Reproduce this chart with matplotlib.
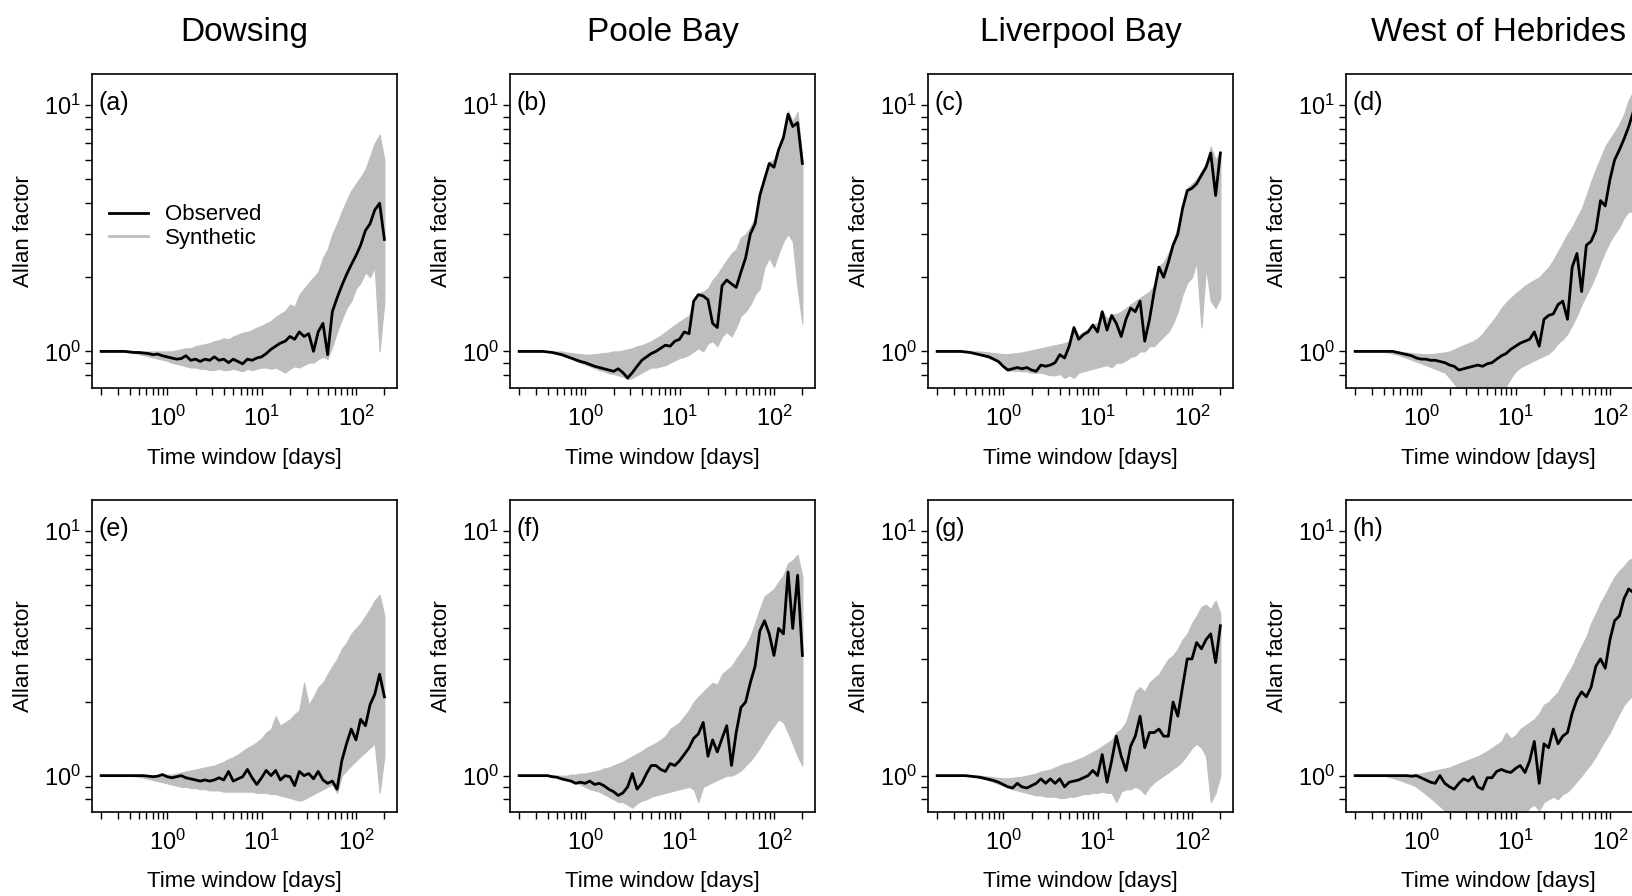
import matplotlib
matplotlib.use("Agg")
import matplotlib.pyplot as plt
from matplotlib.lines import Line2D
from matplotlib.ticker import FixedLocator, LogFormatterSciNotation, NullFormatter

# ---------------- data ----------------
windows = [0.200, 0.224, 0.251, 0.282, 0.316, 0.355, 0.398, 0.447, 0.501, 0.562,
           0.631, 0.708, 0.794, 0.891, 1.00, 1.12, 1.26, 1.41, 1.58, 1.78,
           2.00, 2.24, 2.51, 2.82, 3.16, 3.55, 3.98, 4.47, 5.01, 5.62,
           6.31, 7.08, 7.94, 8.91, 10.0, 11.2, 12.6, 14.1, 15.8, 17.8,
           20.0, 22.4, 25.1, 28.2, 31.6, 35.5, 39.8, 44.7, 50.1, 56.2,
           63.1, 70.8, 79.4, 89.1, 100, 112, 126, 141, 158, 178, 200]

sites = ["Dowsing", "Poole Bay", "Liverpool Bay", "West of Hebrides"]
panel_labels = ["(a)", "(b)", "(c)", "(d)", "(e)", "(f)", "(g)", "(h)"]

obs_a = [1.00, 1.00, 1.00, 1.00, 1.00, 1.00, 0.995, 0.99, 0.99, 0.985,
         0.98, 0.97, 0.975, 0.96, 0.95, 0.94, 0.93, 0.935, 0.96, 0.92,
         0.93, 0.91, 0.93, 0.92, 0.95, 0.92, 0.93, 0.90, 0.93, 0.91,
         0.89, 0.93, 0.92, 0.94, 0.95, 0.98, 1.02, 1.05, 1.08, 1.10,
         1.15, 1.12, 1.20, 1.15, 1.18, 1.00, 1.20, 1.30, 0.97, 1.45,
         1.65, 1.85, 2.05, 2.25, 2.45, 2.70, 3.10, 3.30, 3.75, 4.00, 2.85]
up_a = [1.0, 1.0, 1.0, 1.0, 1.0, 1.0, 1.0, 1.0, 1.0, 1.0,
        1.0, 1.0, 1.0, 1.0, 1.0, 1.0, 1.01, 1.02, 1.03, 1.03,
        1.05, 1.06, 1.07, 1.08, 1.10, 1.11, 1.13, 1.12, 1.15, 1.17,
        1.19, 1.20, 1.22, 1.25, 1.27, 1.30, 1.33, 1.38, 1.42, 1.46,
        1.55, 1.52, 1.70, 1.80, 1.90, 2.00, 2.10, 2.40, 2.60, 3.00,
        3.30, 3.70, 4.10, 4.50, 4.80, 5.10, 5.50, 6.20, 7.00, 7.60, 6.00]
lo_a = [1.0, 1.0, 1.0, 1.0, 1.0, 1.0, 0.99, 0.985, 0.975, 0.965,
        0.955, 0.945, 0.935, 0.925, 0.915, 0.90, 0.89, 0.88, 0.87, 0.86,
        0.86, 0.85, 0.85, 0.84, 0.84, 0.85, 0.84, 0.84, 0.85, 0.84,
        0.83, 0.85, 0.84, 0.85, 0.86, 0.86, 0.85, 0.86, 0.84, 0.82,
        0.85, 0.87, 0.86, 0.88, 0.90, 0.90, 0.93, 0.95, 0.93, 1.05,
        1.20, 1.35, 1.50, 1.60, 1.80, 1.90, 2.10, 2.00, 2.20, 1.00, 1.60]

obs_b = [1.0, 1.0, 1.0, 1.0, 1.0, 1.0, 0.995, 0.99, 0.98, 0.97,
         0.955, 0.94, 0.925, 0.91, 0.90, 0.885, 0.87, 0.86, 0.85, 0.84,
         0.83, 0.85, 0.82, 0.78, 0.82, 0.87, 0.92, 0.95, 0.98, 1.00,
         1.03, 1.06, 1.05, 1.10, 1.12, 1.20, 1.18, 1.60, 1.70, 1.68,
         1.62, 1.30, 1.25, 1.85, 1.95, 1.88, 1.82, 2.10, 2.40, 3.00,
         3.30, 4.30, 5.00, 5.80, 5.60, 6.60, 7.40, 9.20, 8.20, 8.50, 5.80]
up_b = [1.0, 1.0, 1.0, 1.0, 1.0, 1.0, 1.0, 1.0, 1.0, 1.0,
        0.99, 0.985, 0.98, 0.975, 0.97, 0.97, 0.975, 0.98, 0.985, 0.99,
        1.00, 1.00, 1.01, 1.02, 1.03, 1.05, 1.06, 1.08, 1.10, 1.13,
        1.16, 1.20, 1.24, 1.28, 1.32, 1.36, 1.40, 1.62, 1.72, 1.75,
        1.80, 1.95, 2.05, 2.20, 2.35, 2.50, 2.60, 2.90, 3.00, 3.20,
        3.50, 4.50, 5.10, 5.90, 6.00, 6.80, 7.60, 9.50, 8.60, 9.40, 6.00]
lo_b = [1.0, 1.0, 1.0, 1.0, 1.0, 1.0, 1.0, 0.995, 0.985, 0.97,
        0.95, 0.935, 0.915, 0.90, 0.885, 0.87, 0.855, 0.84, 0.83, 0.815,
        0.81, 0.80, 0.79, 0.77, 0.78, 0.80, 0.82, 0.84, 0.86, 0.86,
        0.87, 0.88, 0.90, 0.92, 0.94, 0.95, 0.97, 1.00, 1.03, 1.00,
        1.08, 1.10, 1.05, 1.15, 1.20, 1.15, 1.25, 1.40, 1.45, 1.55,
        1.70, 1.80, 2.20, 2.40, 2.20, 2.50, 2.80, 3.00, 2.80, 1.80, 1.30]

obs_c = [1.0, 1.0, 1.0, 1.0, 1.0, 1.0, 0.995, 0.99, 0.98, 0.97,
         0.96, 0.95, 0.93, 0.91, 0.87, 0.84, 0.85, 0.86, 0.85, 0.86,
         0.84, 0.83, 0.88, 0.87, 0.88, 0.90, 0.97, 0.94, 1.05, 1.25,
         1.12, 1.17, 1.20, 1.28, 1.20, 1.45, 1.22, 1.40, 1.30, 1.15,
         1.35, 1.50, 1.45, 1.60, 1.10, 1.35, 1.75, 2.20, 2.00, 2.30,
         2.70, 3.00, 3.80, 4.50, 4.60, 4.80, 5.20, 5.60, 6.40, 4.30, 6.40]
up_c = [1.0, 1.0, 1.0, 1.0, 1.0, 1.0, 1.0, 1.0, 1.0, 1.0,
        0.995, 0.99, 0.985, 0.98, 0.975, 0.975, 0.98, 0.985, 0.99, 1.00,
        1.01, 1.02, 1.03, 1.04, 1.05, 1.06, 1.07, 1.08, 1.10, 1.26,
        1.16, 1.20, 1.23, 1.29, 1.30, 1.46, 1.36, 1.41, 1.42, 1.45,
        1.50, 1.55, 1.60, 1.65, 1.70, 1.75, 1.85, 2.22, 2.30, 2.50,
        2.80, 3.20, 3.90, 4.60, 4.80, 5.00, 5.40, 5.80, 6.80, 6.00, 6.50]
lo_c = [1.0, 1.0, 1.0, 1.0, 1.0, 1.0, 1.0, 0.995, 0.985, 0.97,
        0.955, 0.94, 0.925, 0.905, 0.865, 0.835, 0.835, 0.835, 0.83, 0.83,
        0.82, 0.82, 0.82, 0.81, 0.80, 0.80, 0.81, 0.78, 0.80, 0.78,
        0.82, 0.83, 0.84, 0.85, 0.86, 0.87, 0.88, 0.86, 0.90, 0.90,
        0.92, 0.95, 0.96, 1.00, 1.00, 1.05, 1.05, 1.10, 1.15, 1.20,
        1.30, 1.45, 1.70, 1.90, 2.00, 2.30, 1.25, 2.20, 1.60, 1.50, 1.65]

obs_d = [1.0, 1.0, 1.0, 1.0, 1.0, 1.0, 1.0, 1.0, 1.0, 0.99,
         0.98, 0.97, 0.96, 0.94, 0.93, 0.93, 0.92, 0.92, 0.91, 0.90,
         0.88, 0.87, 0.84, 0.85, 0.86, 0.87, 0.88, 0.87, 0.89, 0.90,
         0.93, 0.96, 0.98, 1.02, 1.05, 1.08, 1.10, 1.12, 1.20, 1.05,
         1.35, 1.40, 1.42, 1.55, 1.60, 1.35, 2.20, 2.50, 1.75, 2.70,
         2.80, 3.10, 4.10, 3.90, 5.00, 6.00, 6.60, 7.30, 8.20, 9.50, 10.0]
up_d = [1.0, 1.0, 1.0, 1.0, 1.0, 1.0, 1.0, 1.0, 1.0, 1.0,
        0.995, 0.99, 0.985, 0.98, 0.975, 0.975, 0.975, 0.98, 0.985, 0.99,
        1.00, 1.02, 1.04, 1.06, 1.08, 1.10, 1.13, 1.18, 1.25, 1.32,
        1.40, 1.50, 1.58, 1.65, 1.72, 1.78, 1.85, 1.90, 1.95, 2.00,
        2.10, 2.20, 2.35, 2.55, 2.75, 3.00, 3.20, 3.50, 3.80, 4.30,
        4.90, 5.50, 6.10, 6.80, 7.30, 7.80, 8.40, 9.20, 10.5, 11.5, 12.0]
lo_d = [1.0, 1.0, 1.0, 1.0, 1.0, 1.0, 1.0, 0.99, 0.98, 0.97,
        0.955, 0.94, 0.925, 0.91, 0.895, 0.88, 0.865, 0.85, 0.835, 0.82,
        0.78, 0.74, 0.70, 0.70, 0.70, 0.70, 0.70, 0.70, 0.70, 0.70,
        0.70, 0.70, 0.72, 0.78, 0.83, 0.86, 0.88, 0.90, 0.92, 0.94,
        0.96, 0.98, 1.02, 1.08, 1.12, 1.18, 1.28, 1.40, 1.55, 1.70,
        1.85, 2.05, 2.30, 2.55, 2.80, 3.00, 3.20, 3.50, 3.70, 3.70, 3.80]

obs_e = [1.0, 1.0, 1.0, 1.0, 1.0, 1.0, 1.0, 1.0, 1.0, 1.0,
         0.995, 0.99, 0.995, 1.01, 0.99, 0.98, 0.99, 1.00, 0.98, 0.97,
         0.96, 0.95, 0.96, 0.95, 0.96, 0.98, 0.96, 1.04, 0.95, 0.97,
         0.99, 1.06, 0.98, 0.92, 0.98, 1.05, 1.00, 1.05, 0.96, 1.00,
         0.99, 0.91, 1.04, 1.00, 1.02, 0.97, 1.04, 0.96, 0.93, 0.95,
         0.88, 1.15, 1.35, 1.55, 1.40, 1.70, 1.60, 1.95, 2.15, 2.60, 2.10]
up_e = [1.0, 1.0, 1.0, 1.0, 1.0, 1.0, 1.0, 1.0, 1.0, 1.0,
        1.0, 1.0, 1.0, 1.01, 1.01, 1.01, 1.02, 1.03, 1.04, 1.05,
        1.06, 1.07, 1.08, 1.09, 1.10, 1.12, 1.14, 1.17, 1.19, 1.22,
        1.26, 1.30, 1.33, 1.37, 1.42, 1.50, 1.55, 1.75, 1.60, 1.65,
        1.70, 1.78, 1.85, 2.40, 1.95, 2.10, 2.30, 2.40, 2.60, 2.80,
        3.00, 3.30, 3.50, 3.80, 4.00, 4.20, 4.50, 4.80, 5.20, 5.50, 4.50]
lo_e = [1.0, 1.0, 1.0, 1.0, 1.0, 1.0, 1.0, 0.995, 0.99, 0.98,
        0.97, 0.96, 0.95, 0.94, 0.93, 0.92, 0.91, 0.90, 0.90, 0.89,
        0.89, 0.88, 0.88, 0.87, 0.87, 0.87, 0.86, 0.86, 0.86, 0.86,
        0.86, 0.86, 0.86, 0.85, 0.85, 0.85, 0.84, 0.84, 0.83, 0.82,
        0.81, 0.80, 0.79, 0.80, 0.82, 0.84, 0.86, 0.88, 0.90, 0.92,
        0.85, 1.00, 1.05, 1.10, 1.15, 1.20, 1.25, 1.30, 1.35, 0.85, 1.20]

obs_f = [1.0, 1.0, 1.0, 1.0, 1.0, 1.0, 1.0, 0.99, 0.985, 0.97,
         0.96, 0.95, 0.93, 0.94, 0.93, 0.95, 0.92, 0.93, 0.91, 0.88,
         0.86, 0.83, 0.85, 0.90, 1.02, 0.88, 0.93, 1.02, 1.10, 1.10,
         1.06, 1.04, 1.12, 1.10, 1.15, 1.22, 1.30, 1.42, 1.48, 1.65,
         1.20, 1.40, 1.25, 1.42, 1.60, 1.10, 1.50, 1.90, 2.00, 2.40,
         2.80, 3.90, 4.30, 3.80, 3.10, 4.00, 3.80, 6.80, 4.00, 6.60, 3.10]
up_f = [1.0, 1.0, 1.0, 1.0, 1.0, 1.0, 1.0, 1.0, 1.0, 1.0,
        1.0, 1.01, 1.01, 1.02, 1.02, 1.03, 1.04, 1.05, 1.07, 1.08,
        1.10, 1.12, 1.14, 1.17, 1.20, 1.23, 1.26, 1.30, 1.33, 1.36,
        1.40, 1.45, 1.55, 1.60, 1.65, 1.75, 1.85, 2.00, 2.10, 2.20,
        2.30, 2.40, 2.35, 2.60, 2.70, 2.80, 3.00, 3.20, 3.40, 3.70,
        4.20, 4.80, 5.40, 5.60, 5.80, 6.20, 6.60, 7.40, 7.60, 8.00, 6.50]
lo_f = [1.0, 1.0, 1.0, 1.0, 1.0, 1.0, 1.0, 1.0, 0.99, 0.98,
        0.965, 0.95, 0.935, 0.92, 0.90, 0.88, 0.87, 0.86, 0.84, 0.82,
        0.80, 0.78, 0.78, 0.76, 0.74, 0.77, 0.79, 0.80, 0.82, 0.83,
        0.84, 0.85, 0.86, 0.87, 0.88, 0.89, 0.90, 0.88, 0.78, 0.90,
        0.92, 0.94, 0.96, 0.98, 1.00, 1.00, 1.02, 1.05, 1.10, 1.15,
        1.22, 1.30, 1.40, 1.50, 1.60, 1.70, 1.65, 1.50, 1.35, 1.20, 1.10]

obs_g = [1.0, 1.0, 1.0, 1.0, 1.0, 1.0, 1.0, 0.995, 0.99, 0.985,
         0.975, 0.965, 0.955, 0.94, 0.92, 0.90, 0.89, 0.93, 0.90, 0.89,
         0.91, 0.93, 0.97, 0.93, 0.97, 0.93, 0.97, 0.90, 0.94, 0.95,
         0.96, 0.98, 1.00, 1.05, 1.00, 1.22, 0.94, 1.15, 1.45, 1.20,
         1.05, 1.32, 1.45, 1.75, 1.30, 1.50, 1.50, 1.55, 1.45, 1.45,
         2.00, 1.75, 2.30, 3.00, 3.00, 3.50, 3.30, 3.60, 3.80, 2.90, 4.10]
up_g = [1.0, 1.0, 1.0, 1.0, 1.0, 1.0, 1.0, 1.0, 1.0, 1.0,
        0.995, 0.99, 0.985, 0.98, 0.975, 0.975, 0.98, 0.985, 0.99, 1.00,
        1.01, 1.02, 1.04, 1.05, 1.06, 1.08, 1.10, 1.12, 1.13, 1.15,
        1.17, 1.19, 1.22, 1.25, 1.28, 1.32, 1.36, 1.40, 1.50, 1.55,
        1.65, 1.90, 2.20, 2.30, 2.20, 2.40, 2.50, 2.60, 2.80, 3.00,
        3.10, 3.30, 3.60, 3.80, 4.20, 4.50, 4.90, 5.00, 4.80, 5.20, 4.60]
lo_g = [1.0, 1.0, 1.0, 1.0, 1.0, 1.0, 1.0, 0.995, 0.99, 0.98,
        0.97, 0.955, 0.94, 0.925, 0.91, 0.895, 0.88, 0.87, 0.86, 0.85,
        0.84, 0.83, 0.83, 0.82, 0.82, 0.82, 0.81, 0.81, 0.82, 0.82,
        0.83, 0.84, 0.84, 0.85, 0.85, 0.86, 0.85, 0.85, 0.78, 0.86,
        0.88, 0.88, 0.90, 0.88, 0.84, 0.90, 0.94, 0.97, 1.00, 1.03,
        1.07, 1.10, 1.15, 1.22, 1.30, 1.35, 1.30, 1.20, 0.78, 0.85, 1.00]

obs_h = [1.0, 1.0, 1.0, 1.0, 1.0, 1.0, 1.0, 1.0, 1.0, 1.0,
         1.0, 1.0, 0.995, 1.00, 0.98, 0.96, 0.94, 0.93, 1.00, 0.93,
         0.90, 0.88, 0.93, 0.97, 0.95, 0.99, 0.90, 0.88, 0.98, 0.98,
         1.04, 1.06, 1.04, 1.03, 1.07, 1.10, 1.03, 1.15, 1.38, 0.93,
         1.35, 1.30, 1.55, 1.35, 1.45, 1.50, 1.80, 2.05, 2.20, 2.10,
         2.30, 2.80, 3.00, 2.75, 3.60, 4.30, 4.50, 5.30, 5.80, 5.60, 5.80]
up_h = [1.0, 1.0, 1.0, 1.0, 1.0, 1.0, 1.0, 1.0, 1.0, 1.0,
        1.0, 1.0, 1.01, 1.015, 1.02, 1.03, 1.04, 1.05, 1.06, 1.07,
        1.08, 1.10, 1.12, 1.14, 1.16, 1.18, 1.20, 1.23, 1.26, 1.30,
        1.34, 1.38, 1.50, 1.42, 1.46, 1.55, 1.60, 1.65, 1.70, 1.80,
        1.95, 2.00, 2.10, 2.20, 2.40, 2.60, 2.80, 3.10, 3.40, 3.70,
        4.20, 4.60, 5.10, 5.50, 6.00, 6.50, 6.90, 7.20, 7.60, 7.80, 8.00]
lo_h = [1.0, 1.0, 1.0, 1.0, 1.0, 1.0, 1.0, 0.99, 0.98, 0.965,
        0.95, 0.935, 0.92, 0.90, 0.87, 0.84, 0.81, 0.78, 0.75, 0.72,
        0.70, 0.70, 0.70, 0.70, 0.70, 0.70, 0.70, 0.70, 0.70, 0.70,
        0.70, 0.70, 0.70, 0.71, 0.70, 0.72, 0.70, 0.74, 0.76, 0.72,
        0.78, 0.80, 0.82, 0.80, 0.84, 0.86, 0.90, 0.95, 1.00, 1.06,
        1.12, 1.20, 1.30, 1.40, 1.50, 1.65, 1.80, 1.95, 2.05, 2.15, 2.25]

observed = [obs_a, obs_b, obs_c, obs_d, obs_e, obs_f, obs_g, obs_h]
synth_upper = [up_a, up_b, up_c, up_d, up_e, up_f, up_g, up_h]
synth_lower = [lo_a, lo_b, lo_c, lo_d, lo_e, lo_f, lo_g, lo_h]

x_major = [1, 10, 100]
x_minor = [0.2, 0.3, 0.4, 0.5, 0.6, 0.7, 0.8, 0.9,
           2, 3, 4, 5, 6, 7, 8, 9, 20, 30, 40, 50, 60, 70, 80, 90, 200]
y_major = [1, 10]
y_minor = [0.8, 0.9, 2, 3, 4, 5, 6, 7, 8, 9]

# ---------------- style ----------------
plt.rcParams['font.family'] = ['Liberation Sans', 'DejaVu Sans']
plt.rcParams['mathtext.fontset'] = 'custom'
plt.rcParams['mathtext.rm'] = 'Liberation Sans'
plt.rcParams['mathtext.it'] = 'Liberation Sans:italic'
plt.rcParams['mathtext.bf'] = 'Liberation Sans:bold'

GRAY = '#bebebe'
W, H = 1633, 896
fig = plt.figure(figsize=(W / 100, H / 100), dpi=100)

col_left = [92, 510, 928, 1346]
row_top = [74, 500]
row_h = [314, 312]
ax_w = 305

for i in range(8):
    r, c = divmod(i, 4)
    l, t, h = col_left[c], row_top[r], row_h[r]
    ax = fig.add_axes([l / W, 1 - (t + h) / H, ax_w / W, h / H])
    ax.fill_between(windows, synth_lower[i], synth_upper[i], facecolor=GRAY,
                    edgecolor=GRAY, linewidth=0.8, zorder=1)
    ax.plot(windows, observed[i], color='black', lw=2.0, zorder=3)
    ax.set_xscale('log')
    ax.set_yscale('log')
    ax.set_xlim(0.16, 272)
    ax.set_ylim(0.71, 13.4)
    ax.xaxis.set_major_locator(FixedLocator(x_major))
    ax.xaxis.set_minor_locator(FixedLocator(x_minor))
    ax.yaxis.set_major_locator(FixedLocator(y_major))
    ax.yaxis.set_minor_locator(FixedLocator(y_minor))
    ax.xaxis.set_major_formatter(LogFormatterSciNotation())
    ax.yaxis.set_major_formatter(LogFormatterSciNotation())
    ax.xaxis.set_minor_formatter(NullFormatter())
    ax.yaxis.set_minor_formatter(NullFormatter())
    ax.tick_params(which='both', direction='out', length=5, width=1.0,
                   labelsize=17, color='black')
    ax.tick_params(axis='x', which='both', pad=8)
    ax.tick_params(axis='y', which='both', pad=3)
    for s in ax.spines.values():
        s.set_linewidth(1.2)
        s.set_color('black')
    ax.set_xlabel('Time window [days]', fontsize=16)
    ax.xaxis.set_label_coords(0.5, -0.19)
    ax.set_ylabel('Allan factor', fontsize=16)
    ax.yaxis.set_label_coords(-0.19, 0.5)
    ax.text(0.022, 0.945, panel_labels[i], transform=ax.transAxes,
            fontsize=18, va='top', ha='left')
    if r == 0:
        ax.set_title(sites[c], fontsize=24, pad=24)
    if i == 0:
        handles = [Line2D([], [], color='black', lw=2.0),
                   Line2D([], [], color=GRAY, lw=2.0)]
        ax.legend(handles, ['Observed', 'Synthetic'], loc='upper left',
                  bbox_to_anchor=(0.055, 0.585), frameon=False, fontsize=16,
                  handlelength=1.75, handletextpad=0.8, labelspacing=0.1,
                  borderpad=0, borderaxespad=0)

fig.savefig('out.png', dpi=100)
